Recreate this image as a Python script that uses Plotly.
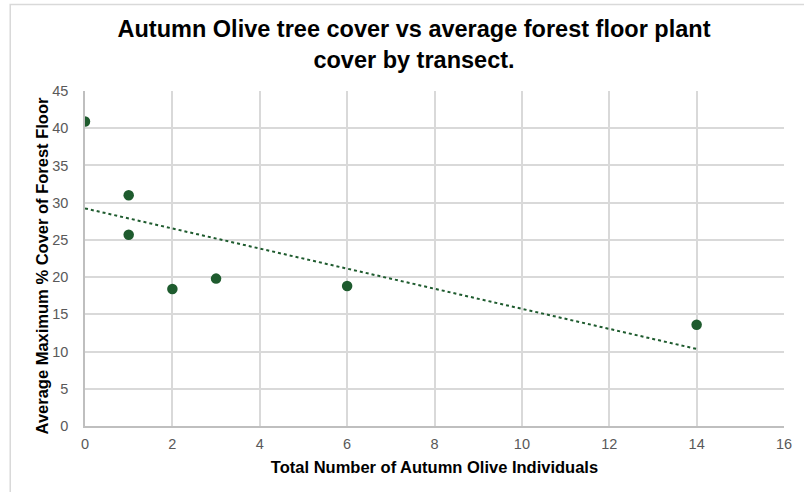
import numpy as np
import plotly.graph_objects as go

# Data
olive_individuals = [0, 1, 1, 2, 3, 6, 14]
floor_cover = [40.9, 31.0, 25.7, 18.4, 19.8, 18.8, 13.6]

title_text = "Autumn Olive tree cover vs average forest floor plant<br>cover by transect."
x_title = "Total Number of Autumn Olive Individuals"
y_title = "Average Maximum % Cover of Forest Floor"

# Linear trendline from the data
slope, intercept = np.polyfit(olive_individuals, floor_cover, 1)
trend_x = [min(olive_individuals), max(olive_individuals)]
trend_y = [intercept + slope * v for v in trend_x]

W, H = 804, 492
L, R, T, B = 85.3, 14.7, 90.5, 66.3

fig = go.Figure()
fig.add_trace(go.Scatter(
    x=trend_x, y=trend_y, mode="lines",
    line=dict(color="#1e5b2e", width=2, dash="dot"),
    hoverinfo="skip", showlegend=False,
))
fig.add_trace(go.Scatter(
    x=olive_individuals, y=floor_cover, mode="markers",
    marker=dict(color="#1e5b2e", size=10.5, line=dict(width=0)),
    showlegend=False,
))

fig.update_layout(
    width=W, height=H,
    margin=dict(l=L, r=R, t=T, b=B, pad=0),
    paper_bgcolor="white", plot_bgcolor="white",
    font=dict(family="Liberation Sans, Arial, sans-serif", color="#595959"),
    title=dict(
        text="<b>" + title_text + "</b>",
        x=414 / W, xref="container", xanchor="center",
        y=1 - 37 / H, yref="container", yanchor="middle",
        font=dict(size=23.5, color="#000000", family="Liberation Sans, Arial, sans-serif"),
    ),
    xaxis=dict(
        range=[0, 16], dtick=2, tick0=0,
        showgrid=True, gridcolor="#d9d9d9", gridwidth=1.5,
        showline=True, linecolor="#bfbfbf", linewidth=1.5, mirror=False,
        zeroline=False, ticks="", ticklabelstandoff=4,
        tickfont=dict(size=14.5, color="#595959"),
        title=dict(text="<b>" + x_title + "</b>", standoff=10,
                   font=dict(size=16.5, color="#000000")),
    ),
    yaxis=dict(
        range=[0, 45], dtick=5, tick0=0,
        showgrid=True, gridcolor="#d9d9d9", gridwidth=1.5,
        showline=True, linecolor="#bfbfbf", linewidth=1.5,
        zeroline=False, ticks="", ticklabelstandoff=12,
        tickfont=dict(size=14.5, color="#595959"),
    ),
)

pw, ph = W - L - R, H - T - B

# y axis title placed as in the reference
fig.add_annotation(
    text="<b>" + y_title + "</b>", textangle=-90, showarrow=False,
    xref="paper", yref="paper",
    x=(42 - L) / pw, y=1 - (266 - T) / ph, xanchor="center", yanchor="middle",
    font=dict(size=16.5, color="#000000"),
)

# outer chart border (partially visible, as in the reference)
fig.add_shape(type="rect", xref="paper", yref="paper",
              x0=(10 - L) / pw, x1=(W + 100 - L) / pw,
              y0=-(H + 100 - T - ph) / ph, y1=1 + (T - 4) / ph,
              line=dict(color="#d9d9d9", width=1.5), layer="below")

fig.write_html("out.html", config={"displayModeBar": False},
               post_script="document.body.style.margin='0';")
